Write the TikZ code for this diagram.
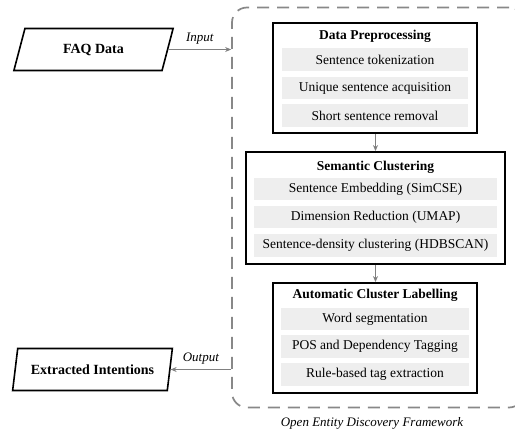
\documentclass[tikz,border=0pt]{standalone}
\usepackage{fontspec}
\setmainfont{Liberation Serif}
\usetikzlibrary{shapes.geometric,arrows.meta}
\definecolor{stepgray}{HTML}{EEEEEE}
\definecolor{arrgray}{HTML}{808080}
\definecolor{dashgray}{HTML}{888888}
\tikzset{
  io/.style={trapezium, trapezium left angle=67, trapezium right angle=113, trapezium stretches=true,
    draw=black, line width=1.6pt, minimum width=160pt, minimum height=42pt, font=\bfseries\fontsize{14}{16}\selectfont, inner sep=0pt},
  stage/.style={draw=black, line width=1.8pt, inner sep=0pt},
  stagetitle/.style={font=\bfseries\fontsize{13.5}{15}\selectfont, inner sep=0pt},
  stepbox/.style={fill=stepgray, inner sep=0pt, minimum height=22.5pt, font=\fontsize{13.5}{15}\selectfont},
  conn/.style={draw=arrgray, line width=1.3pt, -{Stealth[length=6pt,width=5pt]}},
  lbl/.style={font=\itshape\fontsize{13}{15}\selectfont, inner sep=0pt},
  frame/.style={draw=dashgray, line width=1.7pt, dash pattern=on 12pt off 8pt, rounded corners=15pt, inner sep=0pt}
}
\begin{document}
\begin{tikzpicture}[x=1pt,y=-1pt]
\useasboundingbox (0,0) rectangle (515,431);
% dashed framework
\node[frame, minimum width=292pt, minimum height=400pt] (fw) at (378,207.5) {};
% stage 1
\node[stage, minimum width=204pt, minimum height=110pt] (s1) at (375,78) {};
\node[stagetitle] (t1) at (375,36) {Data Preprocessing};
\node[stepbox, minimum width=186pt] (a1) at (375,59.5) {Sentence tokenization};
\node[stepbox, minimum width=186pt] (a2) at (375,88) {Unique sentence acquisition};
\node[stepbox, minimum width=186pt] (a3) at (375,115.5) {Short sentence removal};
% stage 2
\node[stage, minimum width=259pt, minimum height=112pt] (s2) at (375.5,208) {};
\node[stagetitle] (t2) at (375.5,167) {Semantic Clustering};
\node[stepbox, minimum width=243pt] (b1) at (375.5,189) {Sentence Embedding (SimCSE)};
\node[stepbox, minimum width=243pt] (b2) at (375.5,217) {Dimension Reduction (UMAP)};
\node[stepbox, minimum width=243pt] (b3) at (375.5,245.5) {Sentence-density clustering (HDBSCAN)};
% stage 3
\node[stage, minimum width=204pt, minimum height=110pt] (s3) at (375,338) {};
\node[stagetitle] (t3) at (375,295) {Automatic Cluster Labelling};
\node[stepbox, minimum width=188pt] (c1) at (375,319) {Word segmentation};
\node[stepbox, minimum width=188pt] (c2) at (375,346.5) {POS and Dependency Tagging};
\node[stepbox, minimum width=188pt] (c3) at (375,374.5) {Rule-based tag extraction};
% io
\node[io] (faq) at (93.5,49.5) {FAQ Data};
\node[io] (ext) at (92.5,369.5) {Extracted Intentions};
% connectors
\draw[conn] (s1.south -| s2.north) -- (s2.north);
\draw[conn] (s2.south) -- (s3.north -| s2.south);
\draw[conn] (faq.east) -- (faq.east -| fw.west) node[lbl, midway, above=5pt] (lin) {Input};
\draw[conn] (ext.east -| fw.west) -- (ext.east) node[lbl, midway, above=5pt] (lout) {Output};
\node[lbl] (cap) at (372,423) {Open Entity Discovery Framework};
\end{tikzpicture}
\end{document}
